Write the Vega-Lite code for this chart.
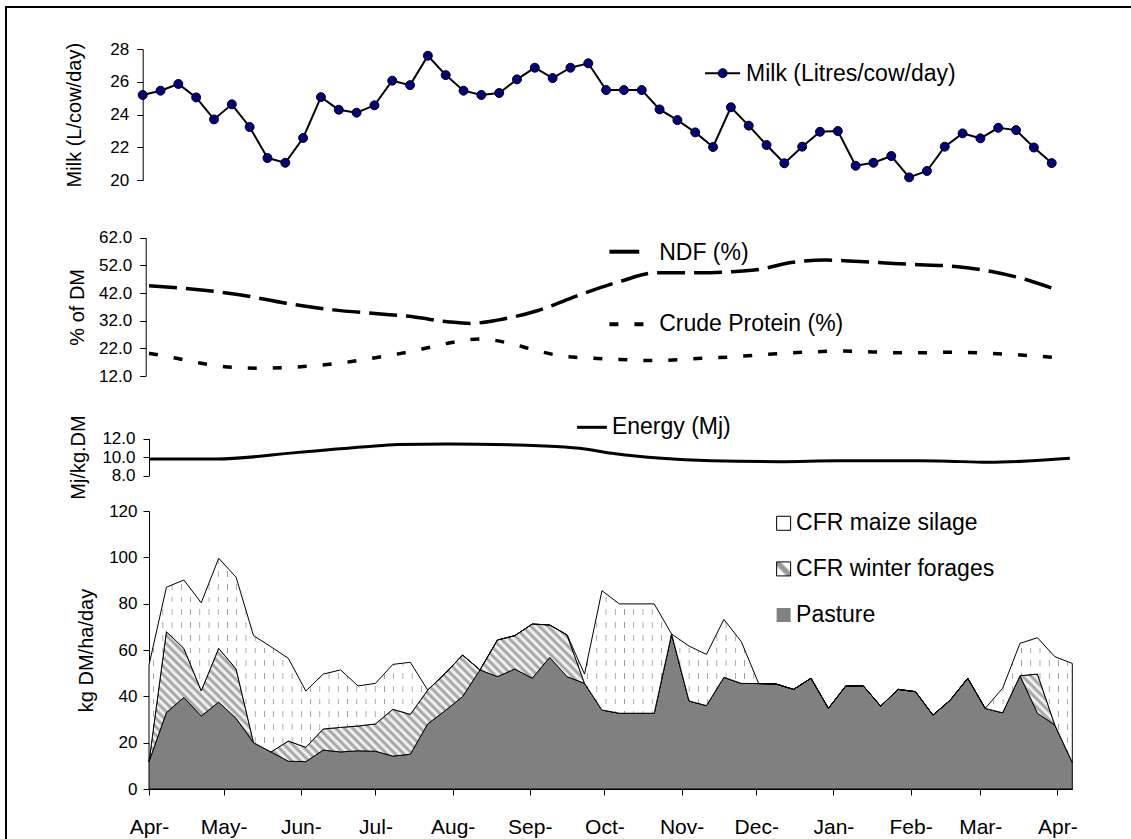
{
"$schema": "https://vega.github.io/schema/vega-lite/v6.json",
"width": 1125, "height": 832,
"autosize": {"type": "none"},
"padding": {"left": 6, "top": 7, "right": 0, "bottom": 0},
"background": "white",
"config": {
  "font": "Liberation Sans",
  "view": {"stroke": null},
  "axis": {"grid": false, "domainColor": "black", "tickColor": "black", "labelColor": "black", "titleColor": "black", "titleFontWeight": "normal", "tickSize": 6, "labelFontSize": 17, "titleFontSize": 20, "domainWidth": 1, "tickWidth": 1, "labelOverlap": false, "labelFlush": false}
},
"resolve": {"scale": {"x": "independent", "y": "independent"}},
"layer": [
 {
  "data": {"values": [
   {"week":1,"milk":25.20},{"week":2,"milk":25.46},{"week":3,"milk":25.87},{"week":4,"milk":25.05},{"week":5,"milk":23.71},{"week":6,"milk":24.63},{"week":7,"milk":23.25},{"week":8,"milk":21.36},{"week":9,"milk":21.07},{"week":10,"milk":22.58},{"week":11,"milk":25.07},{"week":12,"milk":24.30},{"week":13,"milk":24.12},{"week":14,"milk":24.57},{"week":15,"milk":26.07},{"week":16,"milk":25.80},{"week":17,"milk":27.59},{"week":18,"milk":26.41},{"week":19,"milk":25.46},{"week":20,"milk":25.20},{"week":21,"milk":25.32},{"week":22,"milk":26.15},{"week":23,"milk":26.86},{"week":24,"milk":26.23},{"week":25,"milk":26.86},{"week":26,"milk":27.13},{"week":27,"milk":25.50},{"week":28,"milk":25.50},{"week":29,"milk":25.50},{"week":30,"milk":24.32},{"week":31,"milk":23.67},{"week":32,"milk":22.92},{"week":33,"milk":22.03},{"week":34,"milk":24.45},{"week":35,"milk":23.33},{"week":36,"milk":22.15},{"week":37,"milk":21.04},{"week":38,"milk":22.05},{"week":39,"milk":22.96},{"week":40,"milk":23.00},{"week":41,"milk":20.89},{"week":42,"milk":21.07},{"week":43,"milk":21.48},{"week":44,"milk":20.18},{"week":45,"milk":20.57},{"week":46,"milk":22.05},{"week":47,"milk":22.86},{"week":48,"milk":22.56},{"week":49,"milk":23.20},{"week":50,"milk":23.06},{"week":51,"milk":22.00},{"week":52,"milk":21.05}
  ]},
  "encoding": {
   "x": {"field": "week", "type": "quantitative", "scale": {"domain": [1, 52], "range": [136.7, 1045.7], "nice": false, "zero": false}, "axis": null},
   "y": {"field": "milk", "type": "quantitative", "scale": {"domain": [20, 28], "range": [173.33, 42], "nice": false, "zero": false}, "axis": {"orient": "left", "offset": -136.7, "values": [20, 22, 24, 26, 28], "format": "d", "labelPadding": 8, "title": "Milk (L/cow/day)", "titlePadding": 25}}
  },
  "layer": [
   {"mark": {"type": "line", "color": "black", "strokeWidth": 2}},
   {"mark": {"type": "point", "shape": "circle", "filled": true, "fill": "#000080", "stroke": "black", "strokeWidth": 1, "size": 80, "opacity": 1}},
   {"transform": [{"filter": {"field": "week", "equal": 1}}], "mark": {"type": "rule", "color": "black", "strokeWidth": 2},
    "encoding": {"x": {"datum": -6.67}, "x2": {"datum": 60}, "y": {"datum": 30.558}}},
   {"transform": [{"filter": {"field": "week", "equal": 1}}], "mark": {"type": "rule", "color": "black", "strokeWidth": 2},
    "encoding": {"x": {"datum": -6.67}, "y": {"datum": -22}, "y2": {"datum": 30.62}}},
   {"transform": [{"filter": {"field": "week", "equal": 1}}], "mark": {"type": "rule", "color": "black", "strokeWidth": 2},
    "encoding": {"x": {"datum": 32.55}, "x2": {"datum": 34.52}, "y": {"datum": 26.53}}},
   {"transform": [{"filter": {"field": "week", "equal": 1}}], "mark": {"type": "point", "shape": "circle", "filled": true, "fill": "#000080", "stroke": "black", "strokeWidth": 1, "size": 80, "opacity": 1},
    "encoding": {"x": {"datum": 33.54}, "y": {"datum": 26.53}}},
   {"transform": [{"filter": {"field": "week", "equal": 1}}], "mark": {"type": "text", "align": "left", "baseline": "middle", "fontSize": 23, "color": "black", "text": "Milk (Litres/cow/day)"},
    "encoding": {"x": {"datum": 34.85}, "y": {"datum": 26.45}}}
  ]
 },
 {
  "encoding": {
   "x": {"field": "date", "type": "temporal",
    "scale": {"type": "utc", "domain": [{"year": 2005, "month": 4, "date": 1, "utc": true}, {"year": 2006, "month": 4, "date": 7, "utc": true}], "range": [143, 1066.3]},
    "axis": {"orient": "bottom", "offset": -50, "format": "%b-", "labelFontSize": 21, "labelPadding": 21, "title": null, "tickSize": 6,
     "values": [{"year":2005,"month":4,"date":1,"utc":true},{"year":2005,"month":5,"date":1,"utc":true},{"year":2005,"month":6,"date":1,"utc":true},{"year":2005,"month":7,"date":1,"utc":true},{"year":2005,"month":8,"date":1,"utc":true},{"year":2005,"month":9,"date":1,"utc":true},{"year":2005,"month":10,"date":1,"utc":true},{"year":2005,"month":11,"date":1,"utc":true},{"year":2005,"month":12,"date":1,"utc":true},{"year":2006,"month":1,"date":1,"utc":true},{"year":2006,"month":2,"date":1,"utc":true},{"year":2006,"month":3,"date":1,"utc":true},{"year":2006,"month":4,"date":1,"utc":true}]}}
  },
  "resolve": {"scale": {"y": "independent"}},
  "layer": [
   {
    "data": {"values": [
     {"date":"2005-04-01","measure":"NDF","pct":44.6},{"date":"2005-04-22","measure":"NDF","pct":43.1},{"date":"2005-05-08","measure":"NDF","pct":41.3},{"date":"2005-05-26","measure":"NDF","pct":38.3},{"date":"2005-06-14","measure":"NDF","pct":35.9},{"date":"2005-07-02","measure":"NDF","pct":34.5},{"date":"2005-07-16","measure":"NDF","pct":33.4},{"date":"2005-07-30","measure":"NDF","pct":31.6},{"date":"2005-08-08","measure":"NDF","pct":31.0},{"date":"2005-08-19","measure":"NDF","pct":32.2},{"date":"2005-09-04","measure":"NDF","pct":35.6},{"date":"2005-09-21","measure":"NDF","pct":41.3},{"date":"2005-10-07","measure":"NDF","pct":46.1},{"date":"2005-10-22","measure":"NDF","pct":49.3},{"date":"2005-11-08","measure":"NDF","pct":49.3},{"date":"2005-11-21","measure":"NDF","pct":49.7},{"date":"2005-12-02","measure":"NDF","pct":50.5},{"date":"2005-12-15","measure":"NDF","pct":53.0},{"date":"2005-12-29","measure":"NDF","pct":53.9},{"date":"2006-01-17","measure":"NDF","pct":53.1},{"date":"2006-01-31","measure":"NDF","pct":52.4},{"date":"2006-02-20","measure":"NDF","pct":51.5},{"date":"2006-03-06","measure":"NDF","pct":49.7},{"date":"2006-03-20","measure":"NDF","pct":46.7},{"date":"2006-03-30","measure":"NDF","pct":43.7},
     {"date":"2005-04-01","measure":"Crude Protein","pct":20.2},{"date":"2005-04-11","measure":"Crude Protein","pct":18.6},{"date":"2005-04-22","measure":"Crude Protein","pct":16.6},{"date":"2005-05-05","measure":"Crude Protein","pct":15.1},{"date":"2005-05-16","measure":"Crude Protein","pct":14.8},{"date":"2005-05-25","measure":"Crude Protein","pct":15.0},{"date":"2005-06-06","measure":"Crude Protein","pct":15.7},{"date":"2005-06-18","measure":"Crude Protein","pct":16.8},{"date":"2005-06-28","measure":"Crude Protein","pct":18.2},{"date":"2005-07-09","measure":"Crude Protein","pct":19.8},{"date":"2005-07-21","measure":"Crude Protein","pct":22.0},{"date":"2005-07-31","measure":"Crude Protein","pct":24.0},{"date":"2005-08-12","measure":"Crude Protein","pct":25.4},{"date":"2005-08-24","measure":"Crude Protein","pct":23.8},{"date":"2005-09-02","measure":"Crude Protein","pct":21.6},{"date":"2005-09-14","measure":"Crude Protein","pct":19.2},{"date":"2005-09-26","measure":"Crude Protein","pct":18.4},{"date":"2005-10-07","measure":"Crude Protein","pct":18.0},{"date":"2005-10-19","measure":"Crude Protein","pct":17.6},{"date":"2005-10-31","measure":"Crude Protein","pct":17.9},{"date":"2005-11-09","measure":"Crude Protein","pct":18.4},{"date":"2005-11-21","measure":"Crude Protein","pct":18.9},{"date":"2005-12-02","measure":"Crude Protein","pct":19.6},{"date":"2005-12-12","measure":"Crude Protein","pct":20.2},{"date":"2005-12-23","measure":"Crude Protein","pct":20.7},{"date":"2006-01-04","measure":"Crude Protein","pct":21.0},{"date":"2006-01-15","measure":"Crude Protein","pct":20.8},{"date":"2006-01-27","measure":"Crude Protein","pct":20.4},{"date":"2006-02-07","measure":"Crude Protein","pct":20.4},{"date":"2006-02-18","measure":"Crude Protein","pct":20.6},{"date":"2006-02-28","measure":"Crude Protein","pct":20.4},{"date":"2006-03-13","measure":"Crude Protein","pct":19.8},{"date":"2006-03-24","measure":"Crude Protein","pct":19.2},{"date":"2006-04-04","measure":"Crude Protein","pct":18.4}
    ]},
    "encoding": {
     "y": {"field": "pct", "type": "quantitative", "scale": {"domain": [12, 62], "range": [369, 230.67], "nice": false, "zero": false},
      "axis": {"orient": "left", "offset": -139.7, "values": [12, 22, 32, 42, 52, 62], "format": ".1f", "labelPadding": 8, "title": "% of DM", "titlePadding": 11}}
    },
    "layer": [
     {"transform": [{"filter": {"field": "measure", "equal": "NDF"}}], "mark": {"type": "line", "color": "black", "strokeWidth": 3.5, "strokeDash": [28, 9], "interpolate": "monotone"}},
     {"transform": [{"filter": {"field": "measure", "equal": "Crude Protein"}}], "mark": {"type": "line", "color": "black", "strokeWidth": 3.5, "strokeDash": [9, 16], "interpolate": "monotone"}},
     {"transform": [{"filter": {"field": "pct", "equal": 44.6}}], "mark": {"type": "rule", "color": "black", "strokeWidth": 4},
      "encoding": {"x": {"datum": {"year":2005,"month":10,"date":3,"utc":true}}, "x2": {"datum": {"year":2005,"month":10,"date":15,"utc":true}}, "y": {"datum": 56.93}}},
     {"transform": [{"filter": {"field": "pct", "equal": 44.6}}], "mark": {"type": "text", "align": "left", "baseline": "middle", "fontSize": 23, "color": "black", "text": "NDF (%)"},
      "encoding": {"x": {"datum": {"year":2005,"month":10,"date":23,"utc":true}}, "y": {"datum": 56.5}}},
     {"transform": [{"filter": {"field": "pct", "equal": 44.6}}], "mark": {"type": "rule", "color": "black", "strokeWidth": 4, "strokeDash": [9, 16]},
      "encoding": {"x": {"datum": {"year":2005,"month":10,"date":3,"utc":true}}, "x2": {"datum": {"year":2005,"month":10,"date":17,"utc":true}}, "y": {"datum": 30.69}}},
     {"transform": [{"filter": {"field": "pct", "equal": 44.6}}], "mark": {"type": "text", "align": "left", "baseline": "middle", "fontSize": 23, "color": "black", "text": "Crude Protein (%)"},
      "encoding": {"x": {"datum": {"year":2005,"month":10,"date":23,"utc":true}}, "y": {"datum": 30.8}}}
    ]
   },
   {
    "data": {"values": [
     {"date":"2005-04-01","mj":9.78},{"date":"2005-04-28","mj":9.78},{"date":"2005-05-31","mj":10.50},{"date":"2005-06-27","mj":11.11},{"date":"2005-07-10","mj":11.35},{"date":"2005-07-30","mj":11.41},{"date":"2005-09-07","mj":11.19},{"date":"2005-09-21","mj":10.94},{"date":"2005-10-04","mj":10.40},{"date":"2005-10-24","mj":9.86},{"date":"2005-11-13","mj":9.60},{"date":"2005-12-10","mj":9.50},{"date":"2006-01-03","mj":9.60},{"date":"2006-02-12","mj":9.58},{"date":"2006-03-04","mj":9.42},{"date":"2006-04-06","mj":9.86}
    ]},
    "encoding": {
     "y": {"field": "mj", "type": "quantitative", "scale": {"domain": [8, 12], "range": [468.5, 431.5], "nice": false, "zero": false},
      "axis": {"orient": "left", "offset": -143, "values": [8, 10, 12], "format": ".1f", "labelPadding": 8, "title": "Mj/kg.DM", "titlePadding": 13}}
    },
    "layer": [
     {"mark": {"type": "line", "color": "black", "strokeWidth": 3, "interpolate": "monotone"}},
     {"transform": [{"filter": {"field": "mj", "equal": 10.5}}], "mark": {"type": "rule", "color": "black", "strokeWidth": 3},
      "encoding": {"x": {"datum": {"year":2005,"month":9,"date":20,"utc":true}}, "x2": {"datum": {"year":2005,"month":10,"date":2,"utc":true}}, "y": {"datum": 13.21}}},
     {"transform": [{"filter": {"field": "mj", "equal": 10.5}}], "mark": {"type": "text", "align": "left", "baseline": "middle", "fontSize": 23, "color": "black", "text": "Energy (Mj)"},
      "encoding": {"x": {"datum": {"year":2005,"month":10,"date":4,"utc":true}}, "y": {"datum": 13.25}}}
    ]
   },
   {
    "data": {"values": [
     {"date":"2005-04-01","Pasture":11.8,"CFR winter forages":0,"CFR maize silage":41.7},
     {"date":"2005-04-08","Pasture":33.0,"CFR winter forages":34.9,"CFR maize silage":19.2},
     {"date":"2005-04-15","Pasture":39.5,"CFR winter forages":21.2,"CFR maize silage":29.5},
     {"date":"2005-04-22","Pasture":31.5,"CFR winter forages":10.9,"CFR maize silage":38.0},
     {"date":"2005-04-29","Pasture":37.5,"CFR winter forages":23.2,"CFR maize silage":38.9},
     {"date":"2005-05-06","Pasture":30.5,"CFR winter forages":21.3,"CFR maize silage":39.6},
     {"date":"2005-05-13","Pasture":20.0,"CFR winter forages":0,"CFR maize silage":46.2},
     {"date":"2005-05-20","Pasture":16.0,"CFR winter forages":0,"CFR maize silage":45.4},
     {"date":"2005-05-27","Pasture":12.0,"CFR winter forages":8.7,"CFR maize silage":35.7},
     {"date":"2005-06-03","Pasture":11.8,"CFR winter forages":6.2,"CFR maize silage":24.3},
     {"date":"2005-06-10","Pasture":16.8,"CFR winter forages":9.1,"CFR maize silage":23.7},
     {"date":"2005-06-17","Pasture":16.0,"CFR winter forages":10.6,"CFR maize silage":24.8},
     {"date":"2005-06-24","Pasture":16.5,"CFR winter forages":10.7,"CFR maize silage":17.3},
     {"date":"2005-07-01","Pasture":16.3,"CFR winter forages":11.8,"CFR maize silage":17.5},
     {"date":"2005-07-08","Pasture":14.2,"CFR winter forages":20.2,"CFR maize silage":19.4},
     {"date":"2005-07-15","Pasture":15.0,"CFR winter forages":17.2,"CFR maize silage":22.5},
     {"date":"2005-07-22","Pasture":28.1,"CFR winter forages":14.6,"CFR maize silage":0},
     {"date":"2005-07-29","Pasture":33.8,"CFR winter forages":16.1,"CFR maize silage":0},
     {"date":"2005-08-05","Pasture":39.9,"CFR winter forages":17.9,"CFR maize silage":0},
     {"date":"2005-08-12","Pasture":51.4,"CFR winter forages":0,"CFR maize silage":0},
     {"date":"2005-08-19","Pasture":48.5,"CFR winter forages":15.8,"CFR maize silage":0},
     {"date":"2005-08-26","Pasture":51.8,"CFR winter forages":14.4,"CFR maize silage":0},
     {"date":"2005-09-02","Pasture":47.8,"CFR winter forages":23.4,"CFR maize silage":0},
     {"date":"2005-09-09","Pasture":56.8,"CFR winter forages":14.0,"CFR maize silage":0},
     {"date":"2005-09-16","Pasture":48.5,"CFR winter forages":18.0,"CFR maize silage":0},
     {"date":"2005-09-23","Pasture":45.6,"CFR winter forages":0,"CFR maize silage":4.0},
     {"date":"2005-09-30","Pasture":34.1,"CFR winter forages":0,"CFR maize silage":51.5},
     {"date":"2005-10-07","Pasture":32.7,"CFR winter forages":0,"CFR maize silage":47.2},
     {"date":"2005-10-14","Pasture":32.7,"CFR winter forages":0,"CFR maize silage":47.2},
     {"date":"2005-10-21","Pasture":32.7,"CFR winter forages":0,"CFR maize silage":47.2},
     {"date":"2005-10-28","Pasture":66.9,"CFR winter forages":0,"CFR maize silage":0},
     {"date":"2005-11-04","Pasture":38.0,"CFR winter forages":0,"CFR maize silage":23.7},
     {"date":"2005-11-11","Pasture":36.0,"CFR winter forages":0,"CFR maize silage":22.1},
     {"date":"2005-11-18","Pasture":48.2,"CFR winter forages":0,"CFR maize silage":25.0},
     {"date":"2005-11-25","Pasture":45.6,"CFR winter forages":0,"CFR maize silage":18.0},
     {"date":"2005-12-02","Pasture":45.5,"CFR winter forages":0,"CFR maize silage":0},
     {"date":"2005-12-09","Pasture":45.3,"CFR winter forages":0,"CFR maize silage":0},
     {"date":"2005-12-16","Pasture":43.0,"CFR winter forages":0,"CFR maize silage":0},
     {"date":"2005-12-23","Pasture":47.8,"CFR winter forages":0,"CFR maize silage":0},
     {"date":"2005-12-30","Pasture":34.8,"CFR winter forages":0,"CFR maize silage":0},
     {"date":"2006-01-06","Pasture":44.5,"CFR winter forages":0,"CFR maize silage":0},
     {"date":"2006-01-13","Pasture":44.5,"CFR winter forages":0,"CFR maize silage":0},
     {"date":"2006-01-20","Pasture":35.8,"CFR winter forages":0,"CFR maize silage":0},
     {"date":"2006-01-27","Pasture":43.0,"CFR winter forages":0,"CFR maize silage":0},
     {"date":"2006-02-03","Pasture":42.0,"CFR winter forages":0,"CFR maize silage":0},
     {"date":"2006-02-10","Pasture":31.9,"CFR winter forages":0,"CFR maize silage":0},
     {"date":"2006-02-17","Pasture":38.4,"CFR winter forages":0,"CFR maize silage":0},
     {"date":"2006-02-24","Pasture":47.8,"CFR winter forages":0,"CFR maize silage":0},
     {"date":"2006-03-03","Pasture":34.8,"CFR winter forages":0,"CFR maize silage":0},
     {"date":"2006-03-10","Pasture":32.9,"CFR winter forages":0,"CFR maize silage":10.6},
     {"date":"2006-03-17","Pasture":48.9,"CFR winter forages":0,"CFR maize silage":14.0},
     {"date":"2006-03-24","Pasture":32.7,"CFR winter forages":16.9,"CFR maize silage":15.7},
     {"date":"2006-03-31","Pasture":27.6,"CFR winter forages":0,"CFR maize silage":29.5},
     {"date":"2006-04-07","Pasture":11.5,"CFR winter forages":0,"CFR maize silage":42.7}
    ]},
    "layer": [
     {
      "transform": [
       {"fold": ["Pasture", "CFR winter forages", "CFR maize silage"], "as": ["series", "kg"]},
       {"stack": "kg", "groupby": ["date"], "sort": [{"field": "series", "order": "descending"}], "as": ["y0", "y1"]}
      ],
      "encoding": {
       "y": {"field": "y1", "type": "quantitative", "scale": {"domain": [0, 120], "range": [782, 504], "nice": false, "zero": false},
        "axis": {"orient": "left", "offset": -143, "values": [0, 20, 40, 60, 80, 100, 120], "format": "d", "labelPadding": 6, "title": "kg DM/ha/day", "titlePadding": 12}},
       "y2": {"field": "y0"}
      },
      "layer": [
       {"transform": [{"filter": {"field": "series", "equal": "Pasture"}}], "mark": {"type": "area", "fill": "#808080", "stroke": "black", "strokeWidth": 1, "opacity": 1, "interpolate": "linear"}},
       {"transform": [{"filter": {"field": "series", "equal": "CFR winter forages"}}], "mark": {"type": "area", "stroke": "black", "strokeWidth": 1, "opacity": 1, "interpolate": "linear",
        "fill": {"gradient": "linear", "x1": 0, "y1": 1, "x2": 1.1246, "y2": 0.8315, "stops": [
{"offset":0,"color":"#999"},{"offset":0.004,"color":"#fff"},{"offset":0.008,"color":"#999"},{"offset":0.012,"color":"#fff"},{"offset":0.016,"color":"#999"},{"offset":0.02,"color":"#fff"},{"offset":0.024,"color":"#999"},{"offset":0.028,"color":"#fff"},{"offset":0.032,"color":"#999"},{"offset":0.036,"color":"#fff"},{"offset":0.04,"color":"#999"},{"offset":0.044,"color":"#fff"},{"offset":0.048,"color":"#999"},{"offset":0.052,"color":"#fff"},{"offset":0.056,"color":"#999"},{"offset":0.06,"color":"#fff"},{"offset":0.064,"color":"#999"},{"offset":0.068,"color":"#fff"},{"offset":0.072,"color":"#999"},{"offset":0.076,"color":"#fff"},{"offset":0.08,"color":"#999"},{"offset":0.084,"color":"#fff"},{"offset":0.088,"color":"#999"},{"offset":0.092,"color":"#fff"},{"offset":0.096,"color":"#999"},
{"offset":0.1,"color":"#fff"},{"offset":0.104,"color":"#999"},{"offset":0.108,"color":"#fff"},{"offset":0.112,"color":"#999"},{"offset":0.116,"color":"#fff"},{"offset":0.12,"color":"#999"},{"offset":0.124,"color":"#fff"},{"offset":0.128,"color":"#999"},{"offset":0.132,"color":"#fff"},{"offset":0.136,"color":"#999"},{"offset":0.14,"color":"#fff"},{"offset":0.144,"color":"#999"},{"offset":0.148,"color":"#fff"},{"offset":0.152,"color":"#999"},{"offset":0.156,"color":"#fff"},{"offset":0.16,"color":"#999"},{"offset":0.164,"color":"#fff"},{"offset":0.168,"color":"#999"},{"offset":0.172,"color":"#fff"},{"offset":0.176,"color":"#999"},{"offset":0.18,"color":"#fff"},{"offset":0.184,"color":"#999"},{"offset":0.188,"color":"#fff"},{"offset":0.192,"color":"#999"},{"offset":0.196,"color":"#fff"},
{"offset":0.2,"color":"#999"},{"offset":0.204,"color":"#fff"},{"offset":0.208,"color":"#999"},{"offset":0.212,"color":"#fff"},{"offset":0.216,"color":"#999"},{"offset":0.22,"color":"#fff"},{"offset":0.224,"color":"#999"},{"offset":0.228,"color":"#fff"},{"offset":0.232,"color":"#999"},{"offset":0.236,"color":"#fff"},{"offset":0.24,"color":"#999"},{"offset":0.244,"color":"#fff"},{"offset":0.248,"color":"#999"},{"offset":0.252,"color":"#fff"},{"offset":0.256,"color":"#999"},{"offset":0.26,"color":"#fff"},{"offset":0.264,"color":"#999"},{"offset":0.268,"color":"#fff"},{"offset":0.272,"color":"#999"},{"offset":0.276,"color":"#fff"},{"offset":0.28,"color":"#999"},{"offset":0.284,"color":"#fff"},{"offset":0.288,"color":"#999"},{"offset":0.292,"color":"#fff"},{"offset":0.296,"color":"#999"},
{"offset":0.3,"color":"#fff"},{"offset":0.304,"color":"#999"},{"offset":0.308,"color":"#fff"},{"offset":0.312,"color":"#999"},{"offset":0.316,"color":"#fff"},{"offset":0.32,"color":"#999"},{"offset":0.324,"color":"#fff"},{"offset":0.328,"color":"#999"},{"offset":0.332,"color":"#fff"},{"offset":0.336,"color":"#999"},{"offset":0.34,"color":"#fff"},{"offset":0.344,"color":"#999"},{"offset":0.348,"color":"#fff"},{"offset":0.352,"color":"#999"},{"offset":0.356,"color":"#fff"},{"offset":0.36,"color":"#999"},{"offset":0.364,"color":"#fff"},{"offset":0.368,"color":"#999"},{"offset":0.372,"color":"#fff"},{"offset":0.376,"color":"#999"},{"offset":0.38,"color":"#fff"},{"offset":0.384,"color":"#999"},{"offset":0.388,"color":"#fff"},{"offset":0.392,"color":"#999"},{"offset":0.396,"color":"#fff"},
{"offset":0.4,"color":"#999"},{"offset":0.404,"color":"#fff"},{"offset":0.408,"color":"#999"},{"offset":0.412,"color":"#fff"},{"offset":0.416,"color":"#999"},{"offset":0.42,"color":"#fff"},{"offset":0.424,"color":"#999"},{"offset":0.428,"color":"#fff"},{"offset":0.432,"color":"#999"},{"offset":0.436,"color":"#fff"},{"offset":0.44,"color":"#999"},{"offset":0.444,"color":"#fff"},{"offset":0.448,"color":"#999"},{"offset":0.452,"color":"#fff"},{"offset":0.456,"color":"#999"},{"offset":0.46,"color":"#fff"},{"offset":0.464,"color":"#999"},{"offset":0.468,"color":"#fff"},{"offset":0.472,"color":"#999"},{"offset":0.476,"color":"#fff"},{"offset":0.48,"color":"#999"},{"offset":0.484,"color":"#fff"},{"offset":0.488,"color":"#999"},{"offset":0.492,"color":"#fff"},{"offset":0.496,"color":"#999"},
{"offset":0.5,"color":"#fff"},{"offset":0.504,"color":"#999"},{"offset":0.508,"color":"#fff"},{"offset":0.512,"color":"#999"},{"offset":0.516,"color":"#fff"},{"offset":0.52,"color":"#999"},{"offset":0.524,"color":"#fff"},{"offset":0.528,"color":"#999"},{"offset":0.532,"color":"#fff"},{"offset":0.536,"color":"#999"},{"offset":0.54,"color":"#fff"},{"offset":0.544,"color":"#999"},{"offset":0.548,"color":"#fff"},{"offset":0.552,"color":"#999"},{"offset":0.556,"color":"#fff"},{"offset":0.56,"color":"#999"},{"offset":0.564,"color":"#fff"},{"offset":0.568,"color":"#999"},{"offset":0.572,"color":"#fff"},{"offset":0.576,"color":"#999"},{"offset":0.58,"color":"#fff"},{"offset":0.584,"color":"#999"},{"offset":0.588,"color":"#fff"},{"offset":0.592,"color":"#999"},{"offset":0.596,"color":"#fff"},
{"offset":0.6,"color":"#999"},{"offset":0.604,"color":"#fff"},{"offset":0.608,"color":"#999"},{"offset":0.612,"color":"#fff"},{"offset":0.616,"color":"#999"},{"offset":0.62,"color":"#fff"},{"offset":0.624,"color":"#999"},{"offset":0.628,"color":"#fff"},{"offset":0.632,"color":"#999"},{"offset":0.636,"color":"#fff"},{"offset":0.64,"color":"#999"},{"offset":0.644,"color":"#fff"},{"offset":0.648,"color":"#999"},{"offset":0.652,"color":"#fff"},{"offset":0.656,"color":"#999"},{"offset":0.66,"color":"#fff"},{"offset":0.664,"color":"#999"},{"offset":0.668,"color":"#fff"},{"offset":0.672,"color":"#999"},{"offset":0.676,"color":"#fff"},{"offset":0.68,"color":"#999"},{"offset":0.684,"color":"#fff"},{"offset":0.688,"color":"#999"},{"offset":0.692,"color":"#fff"},{"offset":0.696,"color":"#999"},
{"offset":0.7,"color":"#fff"},{"offset":0.704,"color":"#999"},{"offset":0.708,"color":"#fff"},{"offset":0.712,"color":"#999"},{"offset":0.716,"color":"#fff"},{"offset":0.72,"color":"#999"},{"offset":0.724,"color":"#fff"},{"offset":0.728,"color":"#999"},{"offset":0.732,"color":"#fff"},{"offset":0.736,"color":"#999"},{"offset":0.74,"color":"#fff"},{"offset":0.744,"color":"#999"},{"offset":0.748,"color":"#fff"},{"offset":0.752,"color":"#999"},{"offset":0.756,"color":"#fff"},{"offset":0.76,"color":"#999"},{"offset":0.764,"color":"#fff"},{"offset":0.768,"color":"#999"},{"offset":0.772,"color":"#fff"},{"offset":0.776,"color":"#999"},{"offset":0.78,"color":"#fff"},{"offset":0.784,"color":"#999"},{"offset":0.788,"color":"#fff"},{"offset":0.792,"color":"#999"},{"offset":0.796,"color":"#fff"},
{"offset":0.8,"color":"#999"},{"offset":0.804,"color":"#fff"},{"offset":0.808,"color":"#999"},{"offset":0.812,"color":"#fff"},{"offset":0.816,"color":"#999"},{"offset":0.82,"color":"#fff"},{"offset":0.824,"color":"#999"},{"offset":0.828,"color":"#fff"},{"offset":0.832,"color":"#999"},{"offset":0.836,"color":"#fff"},{"offset":0.84,"color":"#999"},{"offset":0.844,"color":"#fff"},{"offset":0.848,"color":"#999"},{"offset":0.852,"color":"#fff"},{"offset":0.856,"color":"#999"},{"offset":0.86,"color":"#fff"},{"offset":0.864,"color":"#999"},{"offset":0.868,"color":"#fff"},{"offset":0.872,"color":"#999"},{"offset":0.876,"color":"#fff"},{"offset":0.88,"color":"#999"},{"offset":0.884,"color":"#fff"},{"offset":0.888,"color":"#999"},{"offset":0.892,"color":"#fff"},{"offset":0.896,"color":"#999"},
{"offset":0.9,"color":"#fff"},{"offset":0.904,"color":"#999"},{"offset":0.908,"color":"#fff"},{"offset":0.912,"color":"#999"},{"offset":0.916,"color":"#fff"},{"offset":0.92,"color":"#999"},{"offset":0.924,"color":"#fff"},{"offset":0.928,"color":"#999"},{"offset":0.932,"color":"#fff"},{"offset":0.936,"color":"#999"},{"offset":0.94,"color":"#fff"},{"offset":0.944,"color":"#999"},{"offset":0.948,"color":"#fff"},{"offset":0.952,"color":"#999"},{"offset":0.956,"color":"#fff"},{"offset":0.96,"color":"#999"},{"offset":0.964,"color":"#fff"},{"offset":0.968,"color":"#999"},{"offset":0.972,"color":"#fff"},{"offset":0.976,"color":"#999"},{"offset":0.98,"color":"#fff"},{"offset":0.984,"color":"#999"},{"offset":0.988,"color":"#fff"},{"offset":0.992,"color":"#999"},{"offset":0.996,"color":"#fff"},{"offset":1,"color":"#999"}
        ]}}},
       {"transform": [{"filter": {"field": "series", "equal": "CFR maize silage"}}], "mark": {"type": "area", "opacity": 1, "strokeWidth": 0, "interpolate": "linear",
        "fill": {"gradient": "linear", "x1": 0, "y1": 0, "x2": 1, "y2": 0, "stops": [
{"offset":0.0041,"color":"#fff"},{"offset":0.005,"color":"#999"},{"offset":0.0059,"color":"#fff"},{"offset":0.0141,"color":"#fff"},{"offset":0.015,"color":"#999"},{"offset":0.0159,"color":"#fff"},{"offset":0.0241,"color":"#fff"},{"offset":0.025,"color":"#999"},{"offset":0.0259,"color":"#fff"},{"offset":0.0341,"color":"#fff"},{"offset":0.035,"color":"#999"},{"offset":0.0359,"color":"#fff"},{"offset":0.0441,"color":"#fff"},{"offset":0.045,"color":"#999"},{"offset":0.0459,"color":"#fff"},{"offset":0.0541,"color":"#fff"},{"offset":0.055,"color":"#999"},{"offset":0.0559,"color":"#fff"},{"offset":0.0641,"color":"#fff"},{"offset":0.065,"color":"#999"},{"offset":0.0659,"color":"#fff"},{"offset":0.0741,"color":"#fff"},{"offset":0.075,"color":"#999"},{"offset":0.0759,"color":"#fff"},{"offset":0.0841,"color":"#fff"},{"offset":0.085,"color":"#999"},{"offset":0.0859,"color":"#fff"},{"offset":0.0941,"color":"#fff"},{"offset":0.095,"color":"#999"},{"offset":0.0959,"color":"#fff"},
{"offset":0.1041,"color":"#fff"},{"offset":0.105,"color":"#999"},{"offset":0.1059,"color":"#fff"},{"offset":0.1141,"color":"#fff"},{"offset":0.115,"color":"#999"},{"offset":0.1159,"color":"#fff"},{"offset":0.1241,"color":"#fff"},{"offset":0.125,"color":"#999"},{"offset":0.1259,"color":"#fff"},{"offset":0.1341,"color":"#fff"},{"offset":0.135,"color":"#999"},{"offset":0.1359,"color":"#fff"},{"offset":0.1441,"color":"#fff"},{"offset":0.145,"color":"#999"},{"offset":0.1459,"color":"#fff"},{"offset":0.1541,"color":"#fff"},{"offset":0.155,"color":"#999"},{"offset":0.1559,"color":"#fff"},{"offset":0.1641,"color":"#fff"},{"offset":0.165,"color":"#999"},{"offset":0.1659,"color":"#fff"},{"offset":0.1741,"color":"#fff"},{"offset":0.175,"color":"#999"},{"offset":0.1759,"color":"#fff"},{"offset":0.1841,"color":"#fff"},{"offset":0.185,"color":"#999"},{"offset":0.1859,"color":"#fff"},{"offset":0.1941,"color":"#fff"},{"offset":0.195,"color":"#999"},{"offset":0.1959,"color":"#fff"},
{"offset":0.2041,"color":"#fff"},{"offset":0.205,"color":"#999"},{"offset":0.2059,"color":"#fff"},{"offset":0.2141,"color":"#fff"},{"offset":0.215,"color":"#999"},{"offset":0.2159,"color":"#fff"},{"offset":0.2241,"color":"#fff"},{"offset":0.225,"color":"#999"},{"offset":0.2259,"color":"#fff"},{"offset":0.2341,"color":"#fff"},{"offset":0.235,"color":"#999"},{"offset":0.2359,"color":"#fff"},{"offset":0.2441,"color":"#fff"},{"offset":0.245,"color":"#999"},{"offset":0.2459,"color":"#fff"},{"offset":0.2541,"color":"#fff"},{"offset":0.255,"color":"#999"},{"offset":0.2559,"color":"#fff"},{"offset":0.2641,"color":"#fff"},{"offset":0.265,"color":"#999"},{"offset":0.2659,"color":"#fff"},{"offset":0.2741,"color":"#fff"},{"offset":0.275,"color":"#999"},{"offset":0.2759,"color":"#fff"},{"offset":0.2841,"color":"#fff"},{"offset":0.285,"color":"#999"},{"offset":0.2859,"color":"#fff"},{"offset":0.2941,"color":"#fff"},{"offset":0.295,"color":"#999"},{"offset":0.2959,"color":"#fff"},
{"offset":0.3041,"color":"#fff"},{"offset":0.305,"color":"#999"},{"offset":0.3059,"color":"#fff"},{"offset":0.3141,"color":"#fff"},{"offset":0.315,"color":"#999"},{"offset":0.3159,"color":"#fff"},{"offset":0.3241,"color":"#fff"},{"offset":0.325,"color":"#999"},{"offset":0.3259,"color":"#fff"},{"offset":0.3341,"color":"#fff"},{"offset":0.335,"color":"#999"},{"offset":0.3359,"color":"#fff"},{"offset":0.3441,"color":"#fff"},{"offset":0.345,"color":"#999"},{"offset":0.3459,"color":"#fff"},{"offset":0.3541,"color":"#fff"},{"offset":0.355,"color":"#999"},{"offset":0.3559,"color":"#fff"},{"offset":0.3641,"color":"#fff"},{"offset":0.365,"color":"#999"},{"offset":0.3659,"color":"#fff"},{"offset":0.3741,"color":"#fff"},{"offset":0.375,"color":"#999"},{"offset":0.3759,"color":"#fff"},{"offset":0.3841,"color":"#fff"},{"offset":0.385,"color":"#999"},{"offset":0.3859,"color":"#fff"},{"offset":0.3941,"color":"#fff"},{"offset":0.395,"color":"#999"},{"offset":0.3959,"color":"#fff"},
{"offset":0.4041,"color":"#fff"},{"offset":0.405,"color":"#999"},{"offset":0.4059,"color":"#fff"},{"offset":0.4141,"color":"#fff"},{"offset":0.415,"color":"#999"},{"offset":0.4159,"color":"#fff"},{"offset":0.4241,"color":"#fff"},{"offset":0.425,"color":"#999"},{"offset":0.4259,"color":"#fff"},{"offset":0.4341,"color":"#fff"},{"offset":0.435,"color":"#999"},{"offset":0.4359,"color":"#fff"},{"offset":0.4441,"color":"#fff"},{"offset":0.445,"color":"#999"},{"offset":0.4459,"color":"#fff"},{"offset":0.4541,"color":"#fff"},{"offset":0.455,"color":"#999"},{"offset":0.4559,"color":"#fff"},{"offset":0.4641,"color":"#fff"},{"offset":0.465,"color":"#999"},{"offset":0.4659,"color":"#fff"},{"offset":0.4741,"color":"#fff"},{"offset":0.475,"color":"#999"},{"offset":0.4759,"color":"#fff"},{"offset":0.4841,"color":"#fff"},{"offset":0.485,"color":"#999"},{"offset":0.4859,"color":"#fff"},{"offset":0.4941,"color":"#fff"},{"offset":0.495,"color":"#999"},{"offset":0.4959,"color":"#fff"},
{"offset":0.5041,"color":"#fff"},{"offset":0.505,"color":"#999"},{"offset":0.5059,"color":"#fff"},{"offset":0.5141,"color":"#fff"},{"offset":0.515,"color":"#999"},{"offset":0.5159,"color":"#fff"},{"offset":0.5241,"color":"#fff"},{"offset":0.525,"color":"#999"},{"offset":0.5259,"color":"#fff"},{"offset":0.5341,"color":"#fff"},{"offset":0.535,"color":"#999"},{"offset":0.5359,"color":"#fff"},{"offset":0.5441,"color":"#fff"},{"offset":0.545,"color":"#999"},{"offset":0.5459,"color":"#fff"},{"offset":0.5541,"color":"#fff"},{"offset":0.555,"color":"#999"},{"offset":0.5559,"color":"#fff"},{"offset":0.5641,"color":"#fff"},{"offset":0.565,"color":"#999"},{"offset":0.5659,"color":"#fff"},{"offset":0.5741,"color":"#fff"},{"offset":0.575,"color":"#999"},{"offset":0.5759,"color":"#fff"},{"offset":0.5841,"color":"#fff"},{"offset":0.585,"color":"#999"},{"offset":0.5859,"color":"#fff"},{"offset":0.5941,"color":"#fff"},{"offset":0.595,"color":"#999"},{"offset":0.5959,"color":"#fff"},
{"offset":0.6041,"color":"#fff"},{"offset":0.605,"color":"#999"},{"offset":0.6059,"color":"#fff"},{"offset":0.6141,"color":"#fff"},{"offset":0.615,"color":"#999"},{"offset":0.6159,"color":"#fff"},{"offset":0.6241,"color":"#fff"},{"offset":0.625,"color":"#999"},{"offset":0.6259,"color":"#fff"},{"offset":0.6341,"color":"#fff"},{"offset":0.635,"color":"#999"},{"offset":0.6359,"color":"#fff"},{"offset":0.6441,"color":"#fff"},{"offset":0.645,"color":"#999"},{"offset":0.6459,"color":"#fff"},{"offset":0.6541,"color":"#fff"},{"offset":0.655,"color":"#999"},{"offset":0.6559,"color":"#fff"},{"offset":0.6641,"color":"#fff"},{"offset":0.665,"color":"#999"},{"offset":0.6659,"color":"#fff"},{"offset":0.6741,"color":"#fff"},{"offset":0.675,"color":"#999"},{"offset":0.6759,"color":"#fff"},{"offset":0.6841,"color":"#fff"},{"offset":0.685,"color":"#999"},{"offset":0.6859,"color":"#fff"},{"offset":0.6941,"color":"#fff"},{"offset":0.695,"color":"#999"},{"offset":0.6959,"color":"#fff"},
{"offset":0.7041,"color":"#fff"},{"offset":0.705,"color":"#999"},{"offset":0.7059,"color":"#fff"},{"offset":0.7141,"color":"#fff"},{"offset":0.715,"color":"#999"},{"offset":0.7159,"color":"#fff"},{"offset":0.7241,"color":"#fff"},{"offset":0.725,"color":"#999"},{"offset":0.7259,"color":"#fff"},{"offset":0.7341,"color":"#fff"},{"offset":0.735,"color":"#999"},{"offset":0.7359,"color":"#fff"},{"offset":0.7441,"color":"#fff"},{"offset":0.745,"color":"#999"},{"offset":0.7459,"color":"#fff"},{"offset":0.7541,"color":"#fff"},{"offset":0.755,"color":"#999"},{"offset":0.7559,"color":"#fff"},{"offset":0.7641,"color":"#fff"},{"offset":0.765,"color":"#999"},{"offset":0.7659,"color":"#fff"},{"offset":0.7741,"color":"#fff"},{"offset":0.775,"color":"#999"},{"offset":0.7759,"color":"#fff"},{"offset":0.7841,"color":"#fff"},{"offset":0.785,"color":"#999"},{"offset":0.7859,"color":"#fff"},{"offset":0.7941,"color":"#fff"},{"offset":0.795,"color":"#999"},{"offset":0.7959,"color":"#fff"},
{"offset":0.8041,"color":"#fff"},{"offset":0.805,"color":"#999"},{"offset":0.8059,"color":"#fff"},{"offset":0.8141,"color":"#fff"},{"offset":0.815,"color":"#999"},{"offset":0.8159,"color":"#fff"},{"offset":0.8241,"color":"#fff"},{"offset":0.825,"color":"#999"},{"offset":0.8259,"color":"#fff"},{"offset":0.8341,"color":"#fff"},{"offset":0.835,"color":"#999"},{"offset":0.8359,"color":"#fff"},{"offset":0.8441,"color":"#fff"},{"offset":0.845,"color":"#999"},{"offset":0.8459,"color":"#fff"},{"offset":0.8541,"color":"#fff"},{"offset":0.855,"color":"#999"},{"offset":0.8559,"color":"#fff"},{"offset":0.8641,"color":"#fff"},{"offset":0.865,"color":"#999"},{"offset":0.8659,"color":"#fff"},{"offset":0.8741,"color":"#fff"},{"offset":0.875,"color":"#999"},{"offset":0.8759,"color":"#fff"},{"offset":0.8841,"color":"#fff"},{"offset":0.885,"color":"#999"},{"offset":0.8859,"color":"#fff"},{"offset":0.8941,"color":"#fff"},{"offset":0.895,"color":"#999"},{"offset":0.8959,"color":"#fff"},
{"offset":0.9041,"color":"#fff"},{"offset":0.905,"color":"#999"},{"offset":0.9059,"color":"#fff"},{"offset":0.9141,"color":"#fff"},{"offset":0.915,"color":"#999"},{"offset":0.9159,"color":"#fff"},{"offset":0.9241,"color":"#fff"},{"offset":0.925,"color":"#999"},{"offset":0.9259,"color":"#fff"},{"offset":0.9341,"color":"#fff"},{"offset":0.935,"color":"#999"},{"offset":0.9359,"color":"#fff"},{"offset":0.9441,"color":"#fff"},{"offset":0.945,"color":"#999"},{"offset":0.9459,"color":"#fff"},{"offset":0.9541,"color":"#fff"},{"offset":0.955,"color":"#999"},{"offset":0.9559,"color":"#fff"},{"offset":0.9641,"color":"#fff"},{"offset":0.965,"color":"#999"},{"offset":0.9659,"color":"#fff"},{"offset":0.9741,"color":"#fff"},{"offset":0.975,"color":"#999"},{"offset":0.9759,"color":"#fff"},{"offset":0.9841,"color":"#fff"},{"offset":0.985,"color":"#999"},{"offset":0.9859,"color":"#fff"},{"offset":0.9941,"color":"#fff"},{"offset":0.995,"color":"#999"},{"offset":0.9959,"color":"#fff"}
        ]}}},
       {"transform": [{"filter": {"field": "series", "equal": "CFR maize silage"}}], "mark": {"type": "area", "stroke": "black", "strokeWidth": 1, "opacity": 1, "interpolate": "linear",
        "fill": {"gradient": "linear", "x1": 0, "y1": 0, "x2": 0, "y2": 1, "stops": [
{"offset":0,"color":"rgba(255,255,255,0)"},{"offset":0.0281,"color":"rgba(255,255,255,0)"},{"offset":0.0281,"color":"#fff"},{"offset":0.0625,"color":"#fff"},
{"offset":0.0625,"color":"rgba(255,255,255,0)"},{"offset":0.0906,"color":"rgba(255,255,255,0)"},{"offset":0.0906,"color":"#fff"},{"offset":0.125,"color":"#fff"},
{"offset":0.125,"color":"rgba(255,255,255,0)"},{"offset":0.1531,"color":"rgba(255,255,255,0)"},{"offset":0.1531,"color":"#fff"},{"offset":0.1875,"color":"#fff"},
{"offset":0.1875,"color":"rgba(255,255,255,0)"},{"offset":0.2156,"color":"rgba(255,255,255,0)"},{"offset":0.2156,"color":"#fff"},{"offset":0.25,"color":"#fff"},
{"offset":0.25,"color":"rgba(255,255,255,0)"},{"offset":0.2781,"color":"rgba(255,255,255,0)"},{"offset":0.2781,"color":"#fff"},{"offset":0.3125,"color":"#fff"},
{"offset":0.3125,"color":"rgba(255,255,255,0)"},{"offset":0.3406,"color":"rgba(255,255,255,0)"},{"offset":0.3406,"color":"#fff"},{"offset":0.375,"color":"#fff"},
{"offset":0.375,"color":"rgba(255,255,255,0)"},{"offset":0.4031,"color":"rgba(255,255,255,0)"},{"offset":0.4031,"color":"#fff"},{"offset":0.4375,"color":"#fff"},
{"offset":0.4375,"color":"rgba(255,255,255,0)"},{"offset":0.4656,"color":"rgba(255,255,255,0)"},{"offset":0.4656,"color":"#fff"},{"offset":0.5,"color":"#fff"},
{"offset":0.5,"color":"rgba(255,255,255,0)"},{"offset":0.5281,"color":"rgba(255,255,255,0)"},{"offset":0.5281,"color":"#fff"},{"offset":0.5625,"color":"#fff"},
{"offset":0.5625,"color":"rgba(255,255,255,0)"},{"offset":0.5906,"color":"rgba(255,255,255,0)"},{"offset":0.5906,"color":"#fff"},{"offset":0.625,"color":"#fff"},
{"offset":0.625,"color":"rgba(255,255,255,0)"},{"offset":0.6531,"color":"rgba(255,255,255,0)"},{"offset":0.6531,"color":"#fff"},{"offset":0.6875,"color":"#fff"},
{"offset":0.6875,"color":"rgba(255,255,255,0)"},{"offset":0.7156,"color":"rgba(255,255,255,0)"},{"offset":0.7156,"color":"#fff"},{"offset":0.75,"color":"#fff"},
{"offset":0.75,"color":"rgba(255,255,255,0)"},{"offset":0.7781,"color":"rgba(255,255,255,0)"},{"offset":0.7781,"color":"#fff"},{"offset":0.8125,"color":"#fff"},
{"offset":0.8125,"color":"rgba(255,255,255,0)"},{"offset":0.8406,"color":"rgba(255,255,255,0)"},{"offset":0.8406,"color":"#fff"},{"offset":0.875,"color":"#fff"},
{"offset":0.875,"color":"rgba(255,255,255,0)"},{"offset":0.9031,"color":"rgba(255,255,255,0)"},{"offset":0.9031,"color":"#fff"},{"offset":0.9375,"color":"#fff"},
{"offset":0.9375,"color":"rgba(255,255,255,0)"},{"offset":0.9656,"color":"rgba(255,255,255,0)"},{"offset":0.9656,"color":"#fff"},{"offset":1,"color":"#fff"}
        ]}}}
      ]
     },
     {"transform": [{"filter": {"field": "Pasture", "equal": 66.9}}], "mark": {"type": "point", "shape": "square", "size": 196, "filled": true, "fill": "#fff", "stroke": "black", "strokeWidth": 1, "opacity": 1},
      "encoding": {"x": {"datum": {"year":2005,"month":12,"date":12,"utc":true}}, "y": {"datum": 114.7}}},
     {"transform": [{"filter": {"field": "Pasture", "equal": 66.9}}], "mark": {"type": "point", "shape": "square", "size": 196, "filled": true, "stroke": "black", "strokeWidth": 1, "opacity": 1,
       "fill": {"gradient": "linear", "x1": 0, "y1": 1, "x2": 1, "y2": 0, "stops": [{"offset": 0, "color": "#fff"}, {"offset": 0.3, "color": "#fff"}, {"offset": 0.42, "color": "#999"}, {"offset": 0.58, "color": "#999"}, {"offset": 0.7, "color": "#fff"}, {"offset": 1, "color": "#fff"}]}},
      "encoding": {"x": {"datum": {"year":2005,"month":12,"date":12,"utc":true}}, "y": {"datum": 95.0}}},
     {"transform": [{"filter": {"field": "Pasture", "equal": 66.9}}], "mark": {"type": "point", "shape": "square", "size": 196, "filled": true, "fill": "#808080", "strokeWidth": 0, "opacity": 1},
      "encoding": {"x": {"datum": {"year":2005,"month":12,"date":12,"utc":true}}, "y": {"datum": 75.1}}},
     {"transform": [{"filter": {"field": "Pasture", "equal": 66.9}}], "mark": {"type": "text", "align": "left", "baseline": "middle", "fontSize": 23, "color": "black", "text": "CFR maize silage"},
      "encoding": {"x": {"datum": {"year":2005,"month":12,"date":17,"utc":true}}, "y": {"datum": 114.7}}},
     {"transform": [{"filter": {"field": "Pasture", "equal": 66.9}}], "mark": {"type": "text", "align": "left", "baseline": "middle", "fontSize": 23, "color": "black", "text": "CFR winter forages"},
      "encoding": {"x": {"datum": {"year":2005,"month":12,"date":17,"utc":true}}, "y": {"datum": 95.0}}},
     {"transform": [{"filter": {"field": "Pasture", "equal": 66.9}}], "mark": {"type": "text", "align": "left", "baseline": "middle", "fontSize": 23, "color": "black", "text": "Pasture"},
      "encoding": {"x": {"datum": {"year":2005,"month":12,"date":17,"utc":true}}, "y": {"datum": 75.1}}}
    ]
   }
  ]
 }
]
}
